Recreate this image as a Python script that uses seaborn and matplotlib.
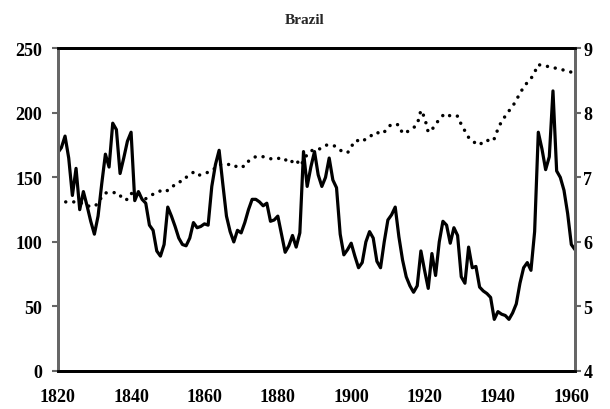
import numpy as np
import pandas as pd
import matplotlib
matplotlib.use("Agg")
import matplotlib.pyplot as plt
import seaborn as sns

# --------------------------------------------
# Data
# --------------------------------------------
years = list(range(1820, 1962))

# solid line, left axis
left_series = [
    169, 173, 182, 165, 136, 157, 125, 139, 128, 116,   # 1820s
    106, 120, 145, 168, 158, 192, 187, 153, 165, 178,   # 1830s
    185, 132, 139, 133, 130, 113, 109, 93, 89, 98,      # 1840s
    127, 120, 112, 103, 98, 97, 103, 115, 111, 112,     # 1850s
    114, 113, 143, 160, 171, 145, 120, 108, 100, 109,   # 1860s
    107, 115, 125, 133, 133, 131, 128, 130, 116, 117,   # 1870s
    120, 106, 92, 97, 105, 96, 107, 170, 143, 158,      # 1880s
    170, 152, 143, 150, 165, 148, 142, 106, 90, 94,     # 1890s
    99, 89, 80, 84, 100, 108, 103, 85, 80, 100,         # 1900s
    117, 121, 127, 104, 86, 73, 66, 61, 66, 93,         # 1910s
    78, 64, 91, 74, 100, 116, 113, 99, 111, 105,        # 1920s
    73, 68, 96, 80, 81, 65, 62, 60, 57, 40,             # 1930s
    46, 44, 43, 40, 45, 52, 68, 80, 84, 78,             # 1940s
    108, 185, 172, 156, 166, 217, 155, 150, 140, 122,   # 1950s
    98, 94,                                             # 1960-61
]

# dotted line, right axis
right_series = [
    6.62, 6.62, 6.62, 6.62, 6.62, 6.62, 6.62, 6.58, 6.56, 6.55,
    6.55, 6.60, 6.70, 6.76, 6.76, 6.76, 6.77, 6.72, 6.65, 6.66,
    6.75, 6.75, 6.75, 6.72, 6.67, 6.70, 6.74, 6.77, 6.79, 6.77,
    6.80, 6.83, 6.90, 6.93, 6.94, 7.00, 7.04, 7.08, 7.03, 7.04,
    7.06, 7.08, 7.10, 7.15, 7.20, 7.20, 7.20, 7.20, 7.20, 7.15,
    7.17, 7.17, 7.25, 7.30, 7.32, 7.33, 7.32, 7.30, 7.29, 7.28,
    7.29, 7.31, 7.28, 7.22, 7.25, 7.28, 7.18, 7.25, 7.36, 7.41,
    7.43, 7.43, 7.46, 7.50, 7.50, 7.50, 7.47, 7.42, 7.40, 7.38,
    7.47, 7.57, 7.57, 7.55, 7.60, 7.62, 7.68, 7.70, 7.67, 7.70,
    7.78, 7.82, 7.83, 7.81, 7.68, 7.70, 7.73, 7.77, 7.82, 8.04,
    7.93, 7.70, 7.74, 7.82, 7.90, 7.96, 7.99, 7.95, 7.94, 7.95,
    7.82, 7.72, 7.62, 7.56, 7.53, 7.50, 7.56, 7.58, 7.55, 7.60,
    7.75, 7.87, 7.95, 8.03, 8.10, 8.20, 8.30, 8.40, 8.47, 8.53,
    8.63, 8.75, 8.73, 8.72, 8.72, 8.70, 8.69, 8.68, 8.66, 8.65,
    8.63, 8.62,
]

left_ticks = [0, 50, 100, 150, 200, 250]
right_ticks = [4, 5, 6, 7, 8, 9]
year_ticks = [1820, 1840, 1860, 1880, 1900, 1920, 1940, 1960]

df = pd.DataFrame({"Year": years, "Left": left_series, "Right": right_series})

# --------------------------------------------
# Plot
# --------------------------------------------
sns.set_style("white")
plt.rcParams["font.family"] = ["Liberation Serif", "DejaVu Serif"]
plt.rcParams["font.weight"] = "bold"

fig = plt.figure(figsize=(6.1, 4.1), dpi=100)
ax = fig.add_axes([0.0946, 0.0927, 0.848, 0.787])
ax2 = ax.twinx()

sns.lineplot(data=df, x="Year", y="Left", ax=ax, color="black", linewidth=2.3)
sns.lineplot(data=df, x="Year", y="Right", ax=ax2, color="black", linewidth=2.5,
             linestyle=(0, (0.01, 2.3)), dash_capstyle="round")

ax.set_xlim(1820, 1961)
ax.set_ylim(0, 250)
ax2.set_ylim(4, 9)
ax.set_xticks(year_ticks)
ax.set_yticks(left_ticks)
ax2.set_yticks(right_ticks)
ax.set_xlabel("")
ax.set_ylabel("")
ax2.set_ylabel("")

for a in (ax, ax2):
    a.tick_params(axis="both", labelsize=13, length=4, width=1.5, direction="out")
    for lab in a.get_xticklabels() + a.get_yticklabels():
        lab.set_fontweight("bold")
    for name, sp in a.spines.items():
        sp.set_visible(True)
        if name in ("left", "right"):
            sp.set_color("#666666")
            sp.set_linewidth(2)
        else:
            sp.set_color("black")
            sp.set_linewidth(2)

ax.tick_params(axis="y", colors="#666666", labelcolor="black", pad=7)
ax2.tick_params(axis="y", colors="#666666", labelcolor="black", pad=2)
ax.tick_params(axis="x", colors="black", width=2, pad=8)

fig.suptitle("Brazil", x=0.5, y=0.965, fontsize=11, fontweight="bold")

plt.savefig("out.png", dpi=100)
plt.close()
